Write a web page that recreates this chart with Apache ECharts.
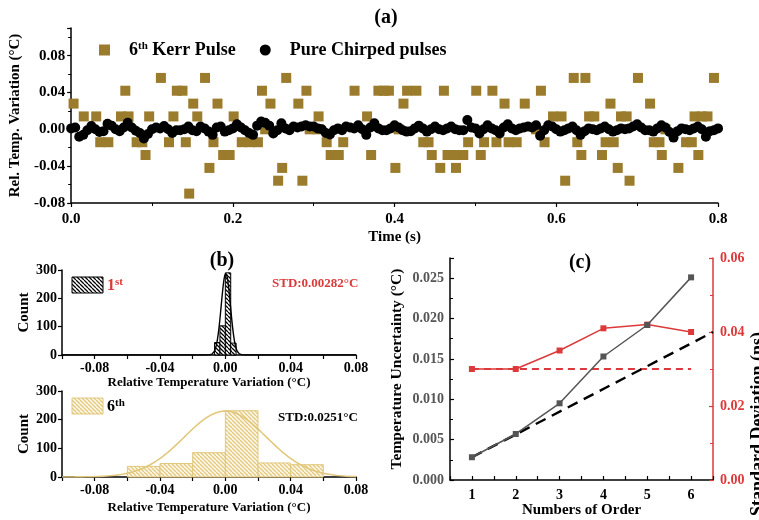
<!DOCTYPE html>
<html>
<head>
<meta charset="utf-8">
<script src="https://cdn.jsdelivr.net/npm/echarts@6/dist/echarts.min.js"></script>
<style>
  html, body { margin: 0; padding: 0; background: #fff; }
  #chart { width: 759px; height: 520px; }
</style>
</head>
<body>
<div id="chart"></div>
<script>
// ---------- Panel (a): relative temperature variation over time ----------
const KERR = '6th Kerr Pulse';
const CHIRP = 'Pure Chirped pulses';

const kerrTime = [
  0.003, 0.0156, 0.031, 0.036, 0.046, 0.0616, 0.067, 0.071, 0.081, 0.088,
  0.092, 0.0965, 0.111, 0.121, 0.1265, 0.1307, 0.1377, 0.1418, 0.146, 0.151,
  0.156, 0.1656, 0.171, 0.176, 0.181, 0.188, 0.196, 0.201, 0.211, 0.221,
  0.231, 0.236, 0.240, 0.2465, 0.256, 0.261, 0.266, 0.281, 0.286, 0.291,
  0.295, 0.305, 0.306, 0.316, 0.321, 0.331, 0.3365, 0.3505, 0.366, 0.371,
  0.380, 0.387, 0.393, 0.401, 0.405, 0.411, 0.4155, 0.427, 0.4355, 0.442,
  0.446, 0.4565, 0.461, 0.4655, 0.4745, 0.476, 0.485, 0.491, 0.501, 0.5066,
  0.5107, 0.521, 0.526, 0.536, 0.541, 0.551, 0.561, 0.575, 0.581, 0.5855,
  0.596, 0.6065, 0.611, 0.6216, 0.626, 0.631, 0.636, 0.6406, 0.647, 0.6565,
  0.661, 0.667, 0.671, 0.676, 0.680, 0.687, 0.6906, 0.701, 0.716, 0.7206,
  0.7276, 0.7305, 0.735, 0.751, 0.7605, 0.7676, 0.7757, 0.771, 0.780, 0.787,
  0.795
];
const kerrTemp = [
  0.0279, 0.014, 0.014, -0.014, -0.014, 0.014, 0.0419, 0.014, -0.014, -0.014,
  -0.0279, 0.014, 0.0558, -0.014, 0.014, 0.0419, 0.0419, -0.014, -0.0698, 0.0279,
  0.014, 0.0558, -0.0419, -0.014, 0.0279, -0.0279, -0.0279, 0.014, -0.014, -0.014,
  -0.014, 0.0419, 0, 0.0279, -0.0558, -0.0419, 0.0558, 0.0279, -0.0558, 0.0419,
  0, 0, 0.014, -0.014, -0.0279, -0.0279, -0.014, 0.0419, 0.014, -0.0279,
  0.0419, 0.0419, 0.0419, -0.0419, 0, 0.0279, 0.0419, 0.0419, -0.014, -0.014,
  -0.0279, -0.0419, 0.0419, -0.0279, -0.0279, -0.0419, -0.0279, -0.014, 0.0419, -0.0279,
  -0.014, 0.0419, -0.014, 0.0279, -0.014, -0.014, 0.0279, 0, 0.0419, -0.014,
  0.014, 0.014, -0.0558, 0.0558, -0.014, -0.0279, 0.0558, 0.014, 0.014, -0.0279,
  -0.014, 0.0279, -0.014, -0.0419, 0.014, 0.014, -0.0558, 0.0558, 0.0279, -0.014,
  -0.014, -0.0279, 0, -0.0419, -0.014, -0.014, -0.0279, 0.014, 0.014, 0.014,
  0.0558
];

// chirped-pulse readings, sampled every chirpStep seconds from t = 0
const chirpStep = 0.005;
const chirpTemp = [
  0.001, 0.002, -0.008, -0.006, -0.001, 0.0035, 0, -0.003, -0.002, 0.006,
  0.004, 0, -0.002, 0.002, 0.007, 0.002, -0.0015, -0.004, -0.010, -0.005,
  0, 0.002, 0.001, 0.0035, 0, -0.004, -0.001, -0.001, 0, 0.003,
  -0.001, -0.002, 0.003, 0.001, -0.0025, -0.006, 0.002, 0.003, -0.0025, -0.001,
  0.001, 0.0055, 0.002, -0.001, -0.004, -0.006, 0.004, 0.0085, 0.007, 0.004,
  -0.0045, -0.001, 0.0065, 0.001, -0.001, 0.003, 0.002, 0.003, 0.0045, 0.003,
  0.003, 0.001, 0, -0.004, -0.0055, -0.001, 0.001, -0.001, 0.003, 0.002,
  0.001, 0.0045, 0, -0.006, 0.002, 0.0065, 0.001, -0.001, -0.001, 0.001,
  0.0045, 0.002, -0.001, -0.0025, -0.002, 0.001, 0.004, 0.001, -0.0025, 0,
  0.003, 0, -0.001, 0.001, 0.003, 0, -0.001, -0.001, 0.010, 0.002,
  0.001, -0.0045, 0, 0.0045, 0.001, -0.001, -0.0045, 0.002, 0.0055, 0.001,
  -0.001, 0.001, 0.002, 0.003, 0.002, 0.0045, -0.007, -0.001, 0.0045, 0.003,
  0, -0.0025, -0.001, 0.001, 0.003, -0.001, -0.006, -0.002, 0.001, 0,
  -0.001, 0.001, 0.003, 0, -0.0025, -0.001, 0.001, 0, 0.001, 0.003,
  0.0055, 0.002, -0.001, -0.001, -0.0025, 0.001, 0.0045, 0.002, -0.003, -0.009,
  -0.002, 0.001, 0, -0.001, 0.001, 0.003, 0, -0.008, -0.002, -0.001, 0.001
];

// ---------- Panel (b): histograms with normal fits ----------
const hist1Edges = [-0.0066, -0.0033, 0, 0.0033, 0.0066];
const hist1Counts = [44, 103, 290, 42];
const hist6Edges = [-0.06, -0.04, -0.02, 0, 0.02, 0.04, 0.06];
const hist6Counts = [37, 47, 85, 231, 49, 43];
const fit1 = { mean: 0.0003, std: 0.00282, peak: 288 };
const fit6 = { mean: 0, std: 0.0251, peak: 230 };
const std1Text = 'STD:0.00282°C';
const std6Text = 'STD:0.0251°C';

// ---------- Panel (c): uncertainty vs. order ----------
const orders = [1, 2, 3, 4, 5, 6];
const tempUncertainty = [0.00282, 0.0057, 0.0095, 0.0153, 0.0192, 0.0251];
const stdDeviation = [0.030, 0.030, 0.035, 0.041, 0.042, 0.040];
const linearOrders = [1, 6.5];
const linearUncertainty = [0.00282, 0.01833];
const baselineOrders = [1, 6];
const baselineStd = [0.030, 0.030];

// ---------- styling ----------
const FONT = '"Liberation Serif", "Times New Roman", serif';
const KERR_COLOR = '#9b7b2c';
const RED = '#dc3a3a';
const TAN = '#e2c87c';
const GREY = '#555555';

function hatch(bg, fg, step, width) {
  const c = document.createElement('canvas');
  c.width = step; c.height = step;
  const g = c.getContext('2d');
  g.fillStyle = bg;
  g.fillRect(0, 0, step, step);
  g.strokeStyle = fg;
  g.lineWidth = width;
  g.beginPath();
  for (let k = -1; k <= 1; k++) {
    g.moveTo(k * step, 0);
    g.lineTo(k * step + step, step);
  }
  g.stroke();
  return { image: c, repeat: 'repeat' };
}
const hatchBlack = hatch('#ffffff', '#000000', 4, 1.3);
const hatchTan = hatch('#fdf8ea', TAN, 4, 1.3);

function gaussCurve(fit, lo, hi, n) {
  const pts = [];
  for (let i = 0; i <= n; i++) {
    const x = lo + (hi - lo) * i / n;
    pts.push([x, fit.peak * Math.exp(-((x - fit.mean) ** 2) / (2 * fit.std ** 2))]);
  }
  return pts;
}

function histSeries(xi, yi, edges, counts, fill, stroke) {
  return {
    type: 'custom',
    xAxisIndex: xi,
    yAxisIndex: yi,
    data: counts.map((c, i) => [edges[i], edges[i + 1], c]),
    encode: { x: [0, 1], y: 2 },
    z: 2,
    renderItem(params, api) {
      const p0 = api.coord([api.value(0), api.value(2)]);
      const p1 = api.coord([api.value(1), 0]);
      return {
        type: 'rect',
        shape: { x: p0[0], y: p0[1], width: p1[0] - p0[0], height: p1[1] - p0[1] },
        style: { fill: fill, stroke: stroke, lineWidth: 1 }
      };
    }
  };
}

const labelStyle = (extra) => Object.assign({
  color: '#000', fontFamily: FONT, fontWeight: 'bold', fontSize: 14
}, extra || {});
const nameStyle = (extra) => Object.assign({
  color: '#000', fontFamily: FONT, fontWeight: 'bold', fontSize: 14
}, extra || {});
const lineStyle = (color) => ({ show: true, onZero: false, lineStyle: { color: color || '#000', width: 1.5 } });
const tickStyle = (color, inside) => ({ show: true, inside: !!inside, length: 4, lineStyle: { color: color || '#000', width: 1.2 } });

const isMultiple = (v, step) => Math.abs(v / step - Math.round(v / step)) < 1e-6;

const histX = (gi, gap) => ({
  type: 'value', gridIndex: gi, min: -0.1, max: 0.08, interval: 0.02,
  axisLine: lineStyle(), axisTick: tickStyle(), splitLine: { show: false },
  axisLabel: labelStyle({ margin: 6, formatter: v => isMultiple(v, 0.04) ? v.toFixed(2) : '' }),
  name: 'Relative Temperature Variation (°C)', nameLocation: 'middle', nameGap: gap,
  nameTextStyle: nameStyle({ fontSize: 13 })
});
const histY = (gi) => ({
  type: 'value', gridIndex: gi, min: 0, max: 300, interval: 100,
  axisLine: lineStyle(), axisTick: tickStyle(), splitLine: { show: false },
  axisLabel: labelStyle({ margin: 5 }),
  name: 'Count', nameLocation: 'middle', nameGap: 26,
  nameTextStyle: nameStyle({ fontSize: 15 })
});

const supRich = { sup: { fontSize: 11, fontWeight: 'bold', fontFamily: FONT, verticalAlign: 'top', padding: [0, 0, 7, 0] } };

const option = {
  animation: false,
  backgroundColor: '#fff',
  grid: [
    { left: 69, top: 28, width: 649, height: 175 },
    { left: 62, top: 270, width: 294, height: 85 },
    { left: 62, top: 391, width: 294, height: 86 },
    { left: 450, top: 258, width: 263, height: 222 }
  ],
  legend: {
    top: 36, left: 94, itemWidth: 11, itemHeight: 11, itemGap: 24,
    data: [{ name: KERR, icon: 'rect' }, { name: CHIRP, icon: 'circle' }],
    formatter: n => n === KERR ? '6{sup|th} Kerr Pulse' : n,
    textStyle: {
      fontFamily: FONT, fontWeight: 'bold', fontSize: 18, color: '#000',
      padding: [0, 0, 0, 14], rich: supRich
    }
  },
  xAxis: [
    {
      type: 'value', gridIndex: 0, min: 0, max: 0.8, interval: 0.2,
      axisLine: lineStyle(), axisTick: tickStyle(),
      minorTick: { show: true, splitNumber: 2, length: 3, lineStyle: { color: '#000' } },
      splitLine: { show: false },
      axisLabel: labelStyle({ fontSize: 15, margin: 9, formatter: v => v.toFixed(1) }),
      name: 'Time (s)', nameLocation: 'middle', nameGap: 27, nameTextStyle: nameStyle({ fontSize: 15 })
    },
    histX(1, 17),
    histX(2, 24),
    {
      type: 'value', gridIndex: 3, min: 0.5, max: 6.5, interval: 0.5,
      axisLine: lineStyle(), axisTick: tickStyle('#000', true), splitLine: { show: false },
      axisLabel: labelStyle({ margin: 8, formatter: v => Number.isInteger(v) ? String(v) : '' }),
      name: 'Numbers of Order', nameLocation: 'middle', nameGap: 22, nameTextStyle: nameStyle({ fontSize: 15 })
    }
  ],
  yAxis: [
    {
      type: 'value', gridIndex: 0, min: -0.08, max: 0.11, interval: 0.04,
      axisLine: lineStyle(), axisTick: tickStyle(),
      minorTick: { show: true, splitNumber: 2, length: 3, lineStyle: { color: '#000' } },
      splitLine: { show: false },
      axisLabel: labelStyle({ fontSize: 15, margin: 6, showMaxLabel: false, formatter: v => v > 0.1 ? '' : v.toFixed(2) }),
      name: 'Rel. Temp. Variation (°C)', nameLocation: 'middle', nameGap: 44, nameTextStyle: nameStyle({ fontSize: 15 })
    },
    histY(1),
    histY(2),
    {
      type: 'value', gridIndex: 3, min: 0, max: 0.0275, interval: 0.005,
      axisLine: lineStyle(), axisTick: tickStyle('#000', true), splitLine: { show: false },
      minorTick: { show: true, splitNumber: 2, length: 3, lineStyle: { color: '#000' } },
      axisLabel: labelStyle({ color: GREY, margin: 6, showMaxLabel: false, formatter: v => v > 0.026 ? '' : v.toFixed(3) }),
      name: 'Temperature Uncertainty (°C)', nameLocation: 'middle', nameGap: 45, nameTextStyle: nameStyle({ fontSize: 15.5 })
    },
    {
      type: 'value', gridIndex: 3, position: 'right', min: 0, max: 0.06, interval: 0.02,
      axisLine: lineStyle(RED), axisTick: tickStyle(RED, true), splitLine: { show: false },
      minorTick: { show: true, splitNumber: 2, length: 3, lineStyle: { color: RED } },
      axisLabel: labelStyle({ color: RED, margin: 7, formatter: v => v.toFixed(2) })
    }
  ],
  series: [
    {
      name: KERR, type: 'scatter', xAxisIndex: 0, yAxisIndex: 0,
      symbol: 'rect', symbolSize: 10,
      itemStyle: { color: KERR_COLOR, opacity: 1 },
      data: kerrTime.map((t, i) => [t, kerrTemp[i]]), z: 2
    },
    {
      name: CHIRP, type: 'scatter', xAxisIndex: 0, yAxisIndex: 0,
      symbol: 'circle', symbolSize: 10,
      itemStyle: { color: '#000', opacity: 1 },
      data: chirpTemp.map((v, i) => [i * chirpStep, v]), z: 3
    },
    histSeries(1, 1, hist1Edges, hist1Counts, hatchBlack, '#000'),
    {
      type: 'line', xAxisIndex: 1, yAxisIndex: 1, showSymbol: false, z: 3,
      lineStyle: { color: '#000', width: 1.4 },
      data: gaussCurve(fit1, -0.1, 0.08, 600)
    },
    histSeries(2, 2, hist6Edges, hist6Counts, hatchTan, TAN),
    {
      type: 'line', xAxisIndex: 2, yAxisIndex: 2, showSymbol: false, z: 3,
      lineStyle: { color: TAN, width: 1.6 },
      data: gaussCurve(fit6, -0.1, 0.08, 300)
    },
    {
      type: 'line', xAxisIndex: 3, yAxisIndex: 4, showSymbol: false, z: 2,
      lineStyle: { color: RED, width: 2.2, type: [7, 5] },
      data: baselineOrders.map((o, i) => [o, baselineStd[i]])
    },
    {
      type: 'line', xAxisIndex: 3, yAxisIndex: 4, z: 3,
      symbol: 'rect', symbolSize: 6, showSymbol: true,
      itemStyle: { color: RED }, lineStyle: { color: RED, width: 1.5 },
      data: orders.map((o, i) => [o, stdDeviation[i]])
    },
    {
      type: 'line', xAxisIndex: 3, yAxisIndex: 3, showSymbol: false, z: 3,
      lineStyle: { color: '#000', width: 2.4, type: [11, 7] },
      data: linearOrders.map((o, i) => [o, linearUncertainty[i]])
    },
    {
      type: 'line', xAxisIndex: 3, yAxisIndex: 3, z: 4,
      symbol: 'rect', symbolSize: 6, showSymbol: true,
      itemStyle: { color: GREY }, lineStyle: { color: GREY, width: 1.5 },
      data: orders.map((o, i) => [o, tempUncertainty[i]])
    }
  ],
  graphic: [
    { type: 'text', x: 386, y: 18, style: { text: '(a)', font: 'bold 20px ' + FONT, fill: '#000', align: 'center', verticalAlign: 'middle' } },
    { type: 'text', x: 222, y: 261, style: { text: '(b)', font: 'bold 20px ' + FONT, fill: '#000', align: 'center', verticalAlign: 'middle' } },
    { type: 'text', x: 580, y: 263, style: { text: '(c)', font: 'bold 20px ' + FONT, fill: '#000', align: 'center', verticalAlign: 'middle' } },
    // legend boxes for the two histograms
    { type: 'rect', shape: { x: 72, y: 277, width: 31, height: 16 }, style: { fill: hatchBlack, stroke: '#000', lineWidth: 1 } },
    { type: 'text', x: 107, y: 286, style: { text: '1{sup|st}', rich: supRich, fontFamily: FONT, fontWeight: 'bold', fontSize: 16, fill: RED, align: 'left', verticalAlign: 'middle' } },
    { type: 'text', x: 272, y: 284, style: { text: std1Text, font: 'bold 13px ' + FONT, fill: RED, align: 'left', verticalAlign: 'middle' } },
    { type: 'rect', shape: { x: 72, y: 398, width: 31, height: 16 }, style: { fill: hatchTan, stroke: TAN, lineWidth: 1 } },
    { type: 'text', x: 107, y: 407, style: { text: '6{sup|th}', rich: supRich, fontFamily: FONT, fontWeight: 'bold', fontSize: 16, fill: '#000', align: 'left', verticalAlign: 'middle' } },
    { type: 'text', x: 278, y: 418, style: { text: std6Text, font: 'bold 13px ' + FONT, fill: '#000', align: 'left', verticalAlign: 'middle' } },
    // right-hand axis title of panel (c)
    { type: 'text', x: 758, y: 424, rotation: Math.PI / 2, style: { text: 'Standard Deviation (ns)', font: 'bold 18px ' + FONT, fill: '#000', align: 'center', verticalAlign: 'middle' } }
  ]
};

const chart = echarts.init(document.getElementById('chart'), null, { renderer: 'canvas' });
chart.setOption(option);
</script>
</body>
</html>
